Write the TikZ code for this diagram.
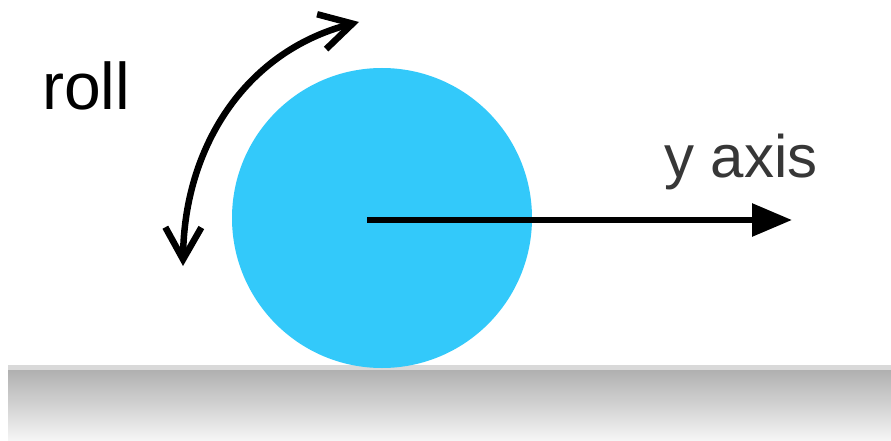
\documentclass[tikz,border=0pt]{standalone}
\usepackage{fontspec}
\setmainfont{Liberation Sans}
\usetikzlibrary{arrows.meta}
\definecolor{ballblue}{RGB}{51,201,250}
\definecolor{textgray}{RGB}{55,55,55}
\tikzset{
  labeltext/.style={inner sep=0pt, anchor=base west},
  rollarrow/.style={line width=6.5pt, {Straight Barb[length=32pt,width=36pt]}-{Straight Barb[length=32pt,width=36pt]}},
  axisarrow/.style={line width=6pt, -{Triangle[length=40pt,width=32pt]}},
}
\begin{document}
\begin{tikzpicture}[x=1pt,y=-1pt]
\useasboundingbox (0,0) rectangle (891,441);
\fill[white] (0,0) rectangle (891,441);
% ground
\fill[gray!30] (8,365) rectangle (891,370);
\shade[top color=black!31, bottom color=black!4] (8,370) rectangle (891,440);
% ball
\fill[ballblue] (382,218) circle (150);
\coordinate (c) at (367,220);
\coordinate (yend) at (792,220);
\draw[axisarrow] (c) -- (yend);
% roll arrow
\coordinate (rs) at (183,266);
\coordinate (re) at (359,22);
\draw[rollarrow] (rs) .. controls (184,150) and (243,52) .. (re);
% labels
\node[labeltext, font=\fontsize{66}{66}\selectfont] (roll) at (42,110) {roll};
\node[labeltext, font=\fontsize{60}{60}\selectfont, text=textgray] (yaxis) at (664,177) {y axis};
\end{tikzpicture}
\end{document}
